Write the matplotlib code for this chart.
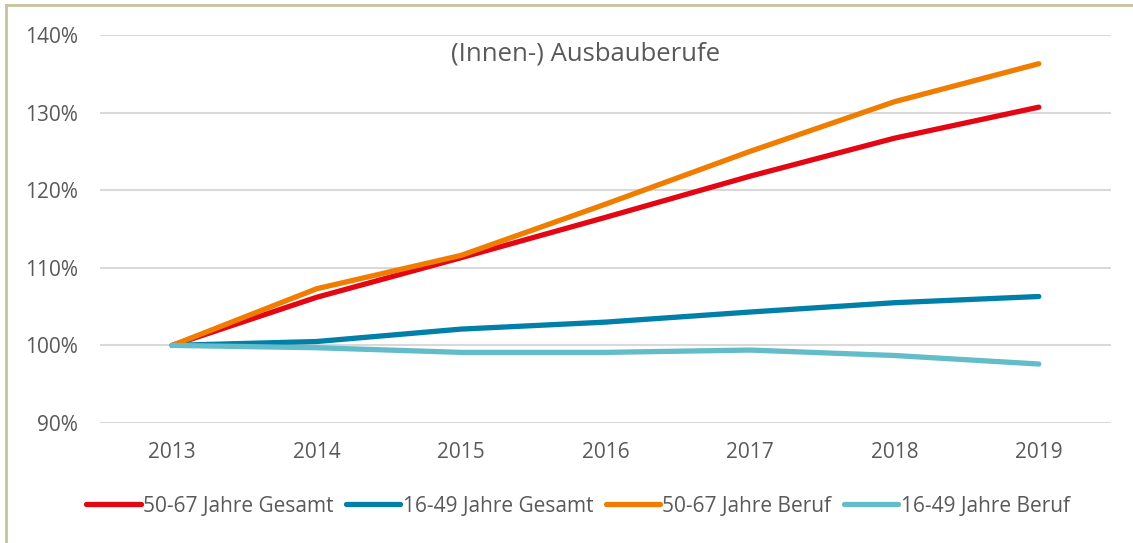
import matplotlib.pyplot as plt
from matplotlib.lines import Line2D
from matplotlib.ticker import FuncFormatter

years = ['2013', '2014', '2015', '2016', '2017', '2018', '2019']
gesamt_50_67 = [100.0, 106.2, 111.3, 116.5, 121.8, 126.7, 130.7]
gesamt_16_49 = [100.0, 100.5, 102.1, 103.0, 104.3, 105.5, 106.3]
beruf_50_67 = [100.0, 107.3, 111.6, 118.2, 125.0, 131.4, 136.3]
beruf_16_49 = [100.0, 99.7, 99.1, 99.1, 99.4, 98.7, 97.6]

plt.rcParams['font.family'] = ['Open Sans', 'DejaVu Sans']
grey = '#595959'

fig = plt.figure(figsize=(11.33, 5.43), dpi=100)
ax = fig.add_axes([100 / 1133, 1 - 423 / 543, 1011 / 1133, 388 / 543])

x = range(len(years))
lw = 3.8
ax.plot(x, gesamt_50_67, color='#E30613', lw=lw, solid_capstyle='round', label='50-67 Jahre Gesamt', zorder=3)
ax.plot(x, gesamt_16_49, color='#0080A8', lw=lw, solid_capstyle='round', label='16-49 Jahre Gesamt', zorder=3)
ax.plot(x, beruf_50_67, color='#F07D00', lw=lw, solid_capstyle='round', label='50-67 Jahre Beruf', zorder=3)
ax.plot(x, beruf_16_49, color='#63BCC9', lw=lw, solid_capstyle='round', label='16-49 Jahre Beruf', zorder=3)

ax.set_xlim(-0.5, 6.5)
ax.set_ylim(90, 140)
ax.set_yticks(range(90, 141, 10))
ax.yaxis.set_major_formatter(FuncFormatter(lambda v, p: f'{v:.0f}%'))
ax.set_xticks(list(x))
ax.set_xticklabels(years)
ax.grid(axis='y', color='#d9d9d9', lw=1.5)
ax.set_axisbelow(True)
for s in ax.spines.values():
    s.set_visible(False)
ax.tick_params(length=0, labelsize=15, colors=grey)
ax.tick_params(axis='y', pad=16)
ax.tick_params(axis='x', pad=14)

ax.text(0.48, 0.95, '(Innen-) Ausbauberufe', transform=ax.transAxes, ha='center', va='center',
        fontsize=18.5, color=grey)

fig.legend(loc='center', bbox_to_anchor=(578 / 1133, 1 - 506 / 543), ncol=4, frameon=False,
           fontsize=15, labelcolor=grey, handlelength=2.6, handletextpad=0.12, columnspacing=0.6)

# frame (left and top edges visible)
border = '#c9c29c'
fig.add_artist(Line2D([6 / 1133, 6 / 1133], [0, 1 - 5 / 543], color=border, lw=2, transform=fig.transFigure))
fig.add_artist(Line2D([6 / 1133, 1], [1 - 5 / 543, 1 - 5 / 543], color=border, lw=2, transform=fig.transFigure))

fig.savefig('out.png', dpi=100)
